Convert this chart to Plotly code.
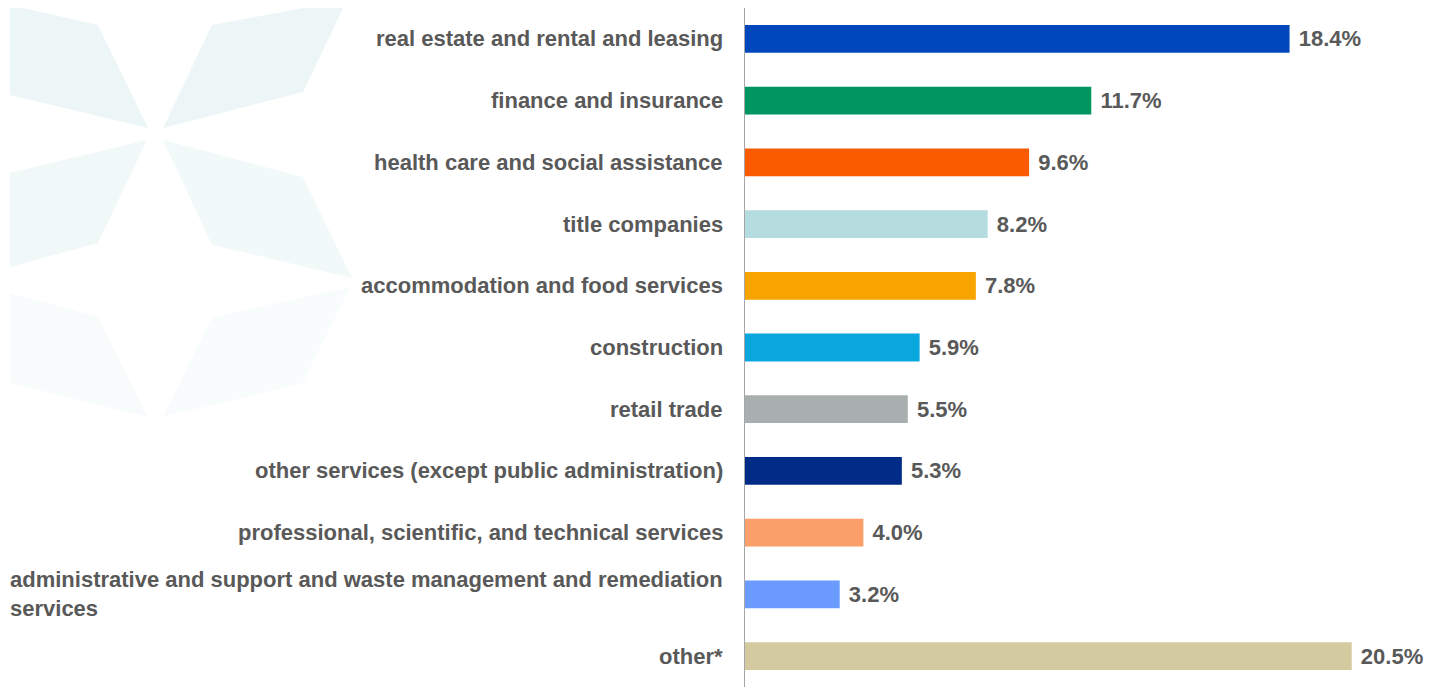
import plotly.graph_objects as go

categories = [
    "real estate and rental and leasing",
    "finance and insurance",
    "health care and social assistance",
    "title companies",
    "accommodation and food services",
    "construction",
    "retail trade",
    "other services (except public administration)",
    "professional, scientific, and technical services",
    "administrative and support and waste management and remediation<br>services",
    "other*",
]
values = [18.4, 11.7, 9.6, 8.2, 7.8, 5.9, 5.5, 5.3, 4.0, 3.2, 20.5]
colors = ["#0047BB", "#00965F", "#FA5A00", "#B5DDE0", "#F7A300", "#0AA6DE",
          "#A9AEAE", "#002B87", "#FA9E6A", "#6B9BFF", "#D3CB9F"]
value_labels = [f"\u00a0<b>{v:.1f}%</b>" for v in values]

TXT = "#595959"
FONT = "Liberation Sans, Arial, sans-serif"

W, H = 1439, 687
OFF = 8  # page offset of the figure inside the browser
L, T, R, B = 737, 0, 8, 8
PW, PH = W - L - R, H - T - B

fig = go.Figure()
fig.add_trace(go.Bar(
    y=categories, x=values, orientation="h",
    marker=dict(color=colors, line=dict(width=0)),
    width=0.45,
    text=value_labels, textposition="outside",
    textfont=dict(family=FONT, size=22, color=TXT),
    cliponaxis=False, hoverinfo="skip",
))

annotations = []
for c in categories:
    annotations.append(dict(
        x=0, xref="paper", y=c, yref="y", text="<b>" + c + "</b>",
        xanchor="right", yanchor="middle", xshift=-20, align="left",
        showarrow=False, font=dict(family=FONT, size=22, color=TXT),
    ))

# faint decorative star in background (page pixel coordinates)
petals = [
    ([(10, 5), (98, 25), (148, 128), (10, 95)], 0.65),
    ([(212, 25), (347, 0), (303, 92), (163, 128)], 0.65),
    ([(147, 140), (98, 243), (10, 267), (10, 173)], 0.5),
    ([(163, 140), (303, 177), (352, 278), (212, 245)], 0.45),
    ([(10, 293), (98, 317), (148, 417), (10, 383)], 0.28),
    ([(212, 317), (350, 287), (303, 383), (163, 417)], 0.22),
]
shapes = []
for pts, op in petals:
    def px(x):
        return (x - OFF - L) / PW
    def py(y):
        return 1 - (y - OFF - T) / PH
    path = "M " + " L ".join(f"{px(x):.4f},{py(y):.4f}" for x, y in pts) + " Z"
    shapes.append(dict(type="path", xref="paper", yref="paper", path=path,
                       fillcolor="#E3F1F1", line=dict(width=0), opacity=op,
                       layer="below"))

fig.update_layout(
    width=W, height=H,
    margin=dict(l=L, r=R, t=T, b=B),
    paper_bgcolor="white", plot_bgcolor="rgba(0,0,0,0)",
    showlegend=False,
    annotations=annotations,
    shapes=shapes,
    xaxis=dict(range=[0, 23.45], visible=False, fixedrange=True),
    yaxis=dict(autorange="reversed", showticklabels=False, ticks="",
               showline=True, linecolor="#A6A6A6", linewidth=1,
               showgrid=False, zeroline=False, fixedrange=True),
)

fig.write_html("out.html")
